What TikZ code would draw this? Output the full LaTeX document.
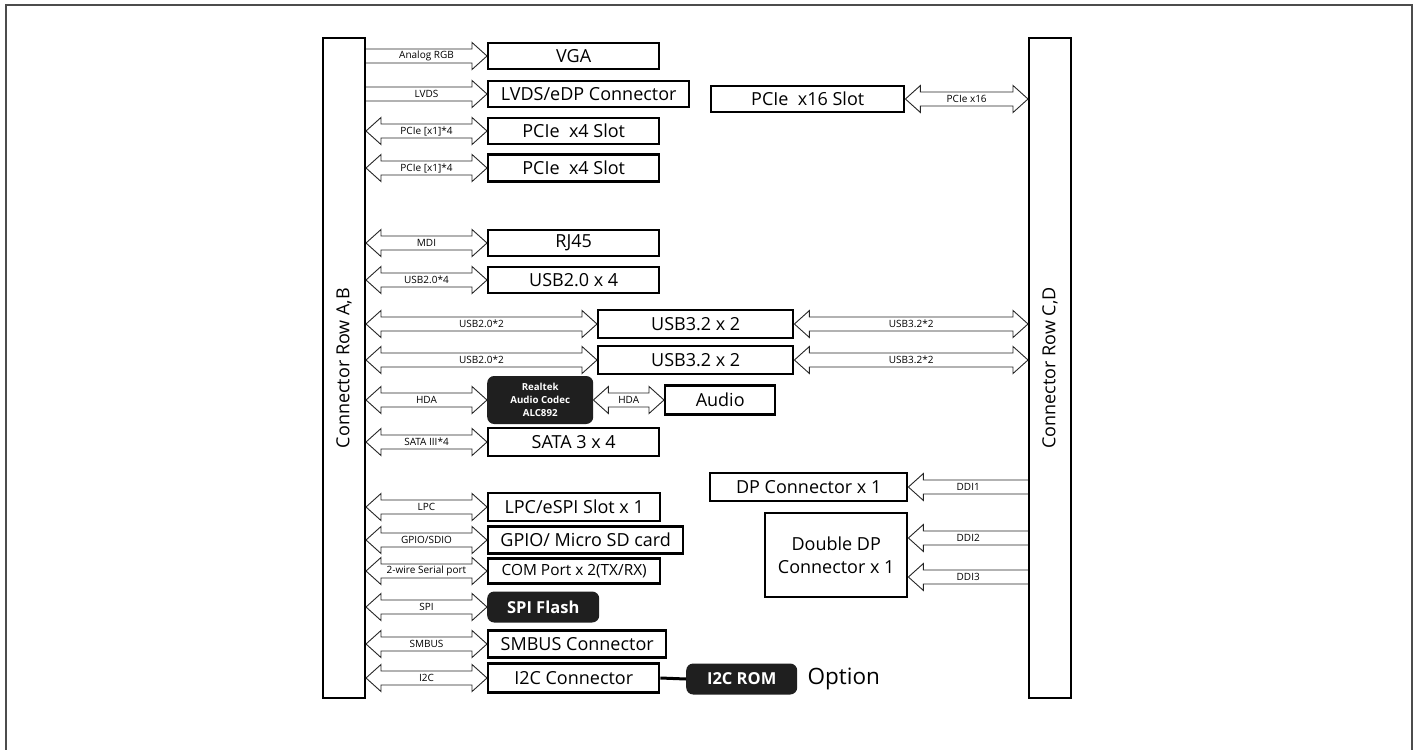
\documentclass[tikz,border=0pt]{standalone}
\usepackage{fontspec}
\setmainfont{Open Sans}
\usetikzlibrary{calc}

\tikzset{
  blk/.style={draw, line width=2.4pt, inner sep=0pt, anchor=west, font=\fontsize{18}{23}\selectfont},
  chip/.style={fill=black!88, rounded corners=7pt, text=white, inner sep=0pt, anchor=west},
  rowbar/.style={draw, line width=2pt, minimum width=42, minimum height=660, anchor=north west},
  rowtxt/.style={rotate=90, font=\fontsize{18}{22}\selectfont},
  lbl/.style={font=\fontsize{10}{12}\selectfont, inner sep=0pt},
  busline/.style={draw=black!85, line width=0.9pt},
}
% hollow bus arrows: start, end, label name, label text
\newcommand\biway[4]{%
  \draw[busline] (#1) -- ($(#1)!15pt!(#2)+(0pt,13.5pt)$) -- ($(#1)!15pt!(#2)+(0pt,7pt)$)
    -- ($(#2)!15pt!(#1)+(0pt,7pt)$) -- ($(#2)!15pt!(#1)+(0pt,13.5pt)$) -- (#2)
    -- ($(#2)!15pt!(#1)+(0pt,-13.5pt)$) -- ($(#2)!15pt!(#1)+(0pt,-7pt)$)
    -- ($(#1)!15pt!(#2)+(0pt,-7pt)$) -- ($(#1)!15pt!(#2)+(0pt,-13.5pt)$) -- cycle;
  \path (#1) -- node[lbl] (#3) {#4} (#2);}
\newcommand\oneway[4]{%
  \draw[busline] ($(#1)+(0pt,7pt)$) -- ($(#2)!15pt!(#1)+(0pt,7pt)$) -- ($(#2)!15pt!(#1)+(0pt,13.5pt)$)
    -- (#2) -- ($(#2)!15pt!(#1)+(0pt,-13.5pt)$) -- ($(#2)!15pt!(#1)+(0pt,-7pt)$) -- ($(#1)+(0pt,-7pt)$);
  \path (#1) -- node[lbl] (#3) {#4} (#2);}

\begin{document}
\begin{tikzpicture}[x=1pt,y=-1pt]
  \useasboundingbox (0,0) rectangle (1415,749);
  \draw[black!70, line width=1.3pt] (6,5) rectangle (1412,770);

  % connector rows
  \node[rowbar] at (322,37) (ab) {};
  \node[rowbar] at (1028,37) (cd) {};
  \node[rowtxt] at (ab.center) (abtxt) {Connector Row A,B};
  \node[rowtxt] at (cd.center) (cdtxt) {Connector Row C,D};

  % left side
  \node[blk, minimum width=171, minimum height=26] at (487,56) (vga) {VGA};
  \node[blk, minimum width=201, minimum height=26] at (487,94) (lvds) {LVDS/eDP Connector};
  \node[blk, minimum width=171, minimum height=26] at (487,131) (pcia) {PCIe~ x4 Slot};
  \node[blk, minimum width=171, minimum height=27] at (487,168) (pcib) {PCIe~ x4 Slot};
  \node[blk, minimum width=171, minimum height=26] at (487,243) (rj) {RJ45};
  \node[blk, minimum width=171, minimum height=26] at (487,280) (usbb) {USB2.0 x 4};
  \node[blk, minimum width=195, minimum height=28] at (597,324) (usbc) {USB3.2 x 2};
  \node[blk, minimum width=195, minimum height=28] at (597,360) (usbd) {USB3.2 x 2};
  \node[chip, minimum width=106, minimum height=48, align=center,
        font=\bfseries\fontsize{9.7}{13}\selectfont] at (487,400) (codec) {Realtek\\Audio Codec\\ALC892};
  \node[blk, minimum width=110, minimum height=29] at (664,400) (audio) {Audio};
  \node[blk, minimum width=171, minimum height=28] at (487,442) (sata) {SATA 3 x 4};
  \node[blk, minimum width=172, minimum height=28] at (487,507) (lpc) {LPC/eSPI Slot x 1};
  \node[blk, minimum width=195, minimum height=27] at (487,540) (gpio) {GPIO/ Micro SD card};
  \node[blk, minimum width=172, minimum height=25, font=\fontsize{15.4}{18}\selectfont] at (487,571) (com) {COM Port x 2(TX/RX)};
  \node[chip, minimum width=112, minimum height=31, font=\bfseries\fontsize{16.5}{20}\selectfont] at (487,607) (spi) {SPI Flash};
  \node[blk, minimum width=178, minimum height=27] at (487,644) (smb) {SMBUS Connector};
  \node[blk, minimum width=171, minimum height=29] at (487,678) (iic) {I2C Connector};
  \node[chip, minimum width=111, minimum height=31, font=\bfseries\fontsize{16.5}{20}\selectfont] at (686,679) (rom) {I2C ROM};
  \node[anchor=west, font=\fontsize{22.5}{27}\selectfont] at (804,679) (opt) {Option};

  % right side
  \node[blk, minimum width=193, minimum height=26] at (710,99) (pcix) {PCIe~ x16 Slot};
  \node[blk, minimum width=197, minimum height=28] at (709,487) (dp) {DP Connector x 1};
  \node[blk, minimum width=142, minimum height=84, align=center] at (764,555) (ddp) {Double DP\\Connector x 1};
  \coordinate (ddib) at ([yshift=17pt]ddp.east);
  \coordinate (ddic) at ([yshift=-22pt]ddp.east);

  % bus end points
  \foreach \k in {vga,lvds,pcia,pcib,rj,usbb,usbc,usbd,codec,sata,lpc,gpio,com,spi,smb,iic}
    \coordinate (s\k) at (ab.east |- \k.west);
  \foreach \k in {pcix,usbc,usbd,dp,ddib,ddic}
    \coordinate (e\k) at (\k.east -| cd.west);

  % buses
  \foreach \k/\txt in {vga/{Analog RGB},lvds/LVDS}
    \oneway{s\k}{\k.west}{l\k}{\txt};
  \foreach \k/\txt in {pcia/{PCIe [x1]*4},pcib/{PCIe [x1]*4},rj/MDI,usbb/{USB2.0*4},usbc/{USB2.0*2},usbd/{USB2.0*2},codec/HDA,sata/{SATA III*4},lpc/LPC,gpio/{GPIO/SDIO},com/{2-wire Serial port},spi/SPI,smb/SMBUS,iic/I2C}
    \biway{s\k}{\k.west}{l\k}{\txt};
  \biway{codec.east}{audio.west}{lhda}{HDA};
  \foreach \k/\txt in {pcix/{PCIe x16},usbc/{USB3.2*2},usbd/{USB3.2*2}}
    \biway{\k.east}{e\k}{r\k}{\txt};
  \foreach \k/\txt in {dp/DDI1,ddib/DDI2,ddic/DDI3}
    \oneway{e\k}{\k.east}{r\k}{\txt};

  \draw[line width=3pt] (iic.east) -- (rom.west);
\end{tikzpicture}
\end{document}
